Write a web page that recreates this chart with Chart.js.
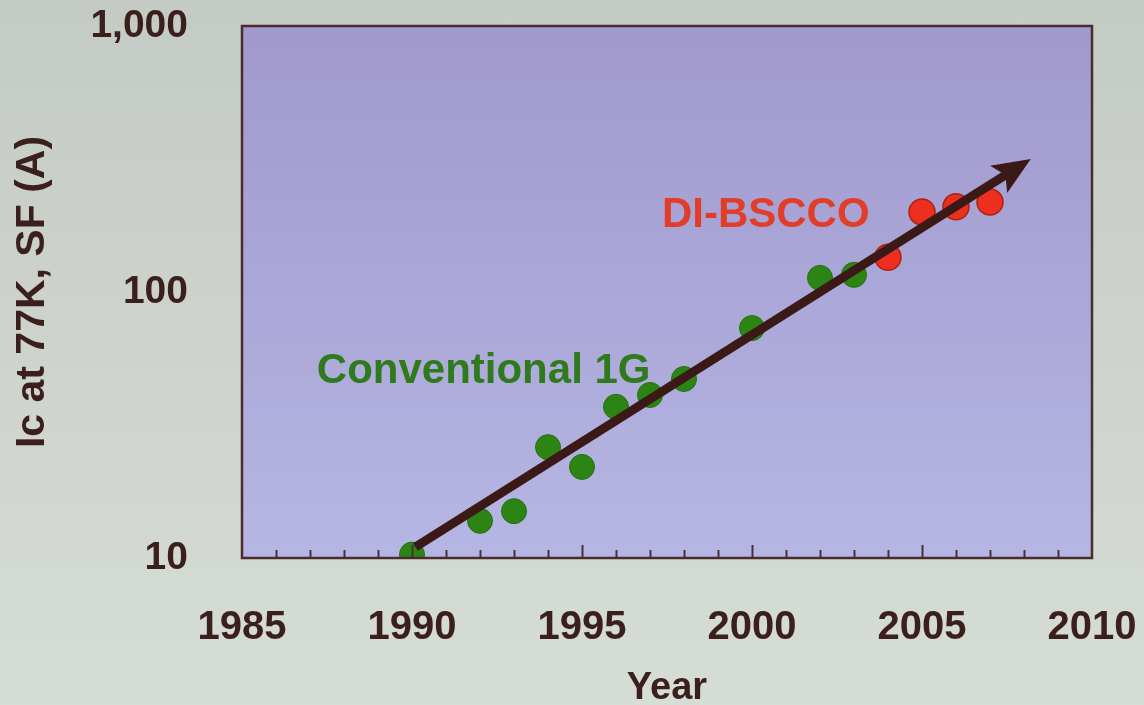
<!DOCTYPE html>
<html>
<head>
<meta charset="utf-8">
<script src="https://cdn.jsdelivr.net/npm/chart.js@4.4.1/dist/chart.umd.min.js"></script>
<style>
  html, body { margin: 0; padding: 0; }
  body { width: 1144px; height: 705px; overflow: hidden;
         background: linear-gradient(180deg, #c4cac4 0%, #cdd3cc 45%, #d6ddd6 100%); }
  #wrap { position: relative; width: 1144px; height: 705px; }
</style>
</head>
<body>
<div id="wrap"><canvas id="c" width="1144" height="705"></canvas></div>
<script>
// Critical current of conventional 1G and DI-BSCCO wire by year
const conventionalYears = [1990, 1992, 1993, 1994, 1995, 1996, 1997, 1998, 2000, 2002, 2003];
const conventionalIc    = [10.3, 13.8, 15.0, 26.1, 22.0, 37.0, 41.0, 47.1, 73.2, 113, 116];
const dibsccoYears = [2004, 2005, 2006, 2007];
const dibsccoIc    = [135, 200, 209, 218];

// Trend arrow: start and tip
const trendYears = [1990.1, 2008.2];
const trendIc    = [11.0, 316];

// Axis ticks
const xTickValues = [1985, 1990, 1995, 2000, 2005, 2010];
const yTickValues = [10, 100, 1000];

const inkColor = '#3b1f1c';
const fontFamily = '"Liberation Sans", Arial, sans-serif';

const toPoints = (xs, ys) => xs.map((x, i) => ({ x: x, y: ys[i] }));

// Lavender plot panel with a dark frame
const panelPlugin = {
  id: 'panel',
  beforeDatasetsDraw(chart) {
    const { ctx, chartArea: a } = chart;
    ctx.save();
    const g = ctx.createLinearGradient(0, a.top, 0, a.bottom);
    g.addColorStop(0, '#a199cc');
    g.addColorStop(0.5, '#aba7d8');
    g.addColorStop(1, '#b6b6e4');
    ctx.fillStyle = g;
    ctx.fillRect(a.left, a.top, a.right - a.left, a.bottom - a.top);
    ctx.restore();
  },
  afterDatasetsDraw(chart) {
    const { ctx, chartArea: a, scales } = chart;
    ctx.save();
    // inward year ticks along the bottom edge
    ctx.strokeStyle = '#4a3030';
    ctx.lineWidth = 2;
    for (let yr = 1986; yr < 2010; yr++) {
      const px = Math.round(scales.x.getPixelForValue(yr)) + 0.5;
      const len = yr % 5 === 0 ? 13 : 8;
      ctx.beginPath();
      ctx.moveTo(px, a.bottom);
      ctx.lineTo(px, a.bottom - len);
      ctx.stroke();
    }
    // frame
    ctx.strokeStyle = '#4a2c2c';
    ctx.lineWidth = 2.5;
    ctx.strokeRect(a.left, a.top, a.right - a.left, a.bottom - a.top);
    ctx.restore();
  }
};

// Trend arrow drawn over the points
const arrowPlugin = {
  id: 'trendArrow',
  afterDatasetsDraw(chart) {
    const { ctx, scales } = chart;
    const x0 = scales.x.getPixelForValue(trendYears[0]);
    const y0 = scales.y.getPixelForValue(trendIc[0]);
    const x1 = scales.x.getPixelForValue(trendYears[1]);
    const y1 = scales.y.getPixelForValue(trendIc[1]);
    const ang = Math.atan2(y1 - y0, x1 - x0);
    const headLen = 38, headHalf = 16, notch = 8;
    const ux = Math.cos(ang), uy = Math.sin(ang);
    const nx = -uy, ny = ux;
    ctx.save();
    ctx.strokeStyle = '#3a1917';
    ctx.fillStyle = '#3a1917';
    ctx.lineWidth = 9;
    ctx.lineCap = 'butt';
    ctx.beginPath();
    ctx.moveTo(x0, y0);
    ctx.lineTo(x1 - ux * (headLen - notch - 2), y1 - uy * (headLen - notch - 2));
    ctx.stroke();
    const bx = x1 - ux * headLen, by = y1 - uy * headLen;
    ctx.beginPath();
    ctx.moveTo(x1, y1);
    ctx.lineTo(bx + nx * headHalf, by + ny * headHalf);
    ctx.lineTo(bx + ux * notch, by + uy * notch);
    ctx.lineTo(bx - nx * headHalf, by - ny * headHalf);
    ctx.closePath();
    ctx.fill();
    ctx.restore();
  }
};

// Series labels placed in data space
const labelPlugin = {
  id: 'seriesLabels',
  afterDatasetsDraw(chart) {
    const { ctx, scales } = chart;
    ctx.save();
    ctx.font = 'bold 42px ' + fontFamily;
    ctx.textBaseline = 'alphabetic';
    ctx.textAlign = 'left';
    ctx.fillStyle = '#2e7a1c';
    ctx.fillText('Conventional 1G', scales.x.getPixelForValue(1987.2), scales.y.getPixelForValue(45.5));
    ctx.fillStyle = '#e23d28';
    ctx.fillText('DI-BSCCO', scales.x.getPixelForValue(1997.35), scales.y.getPixelForValue(175));
    ctx.restore();
  }
};

new Chart(document.getElementById('c'), {
  type: 'scatter',
  data: {
    datasets: [
      {
        label: 'Conventional 1G',
        data: toPoints(conventionalYears, conventionalIc),
        backgroundColor: '#2c8414',
        borderColor: '#24700f',
        borderWidth: 1,
        pointRadius: 12.5,
        pointHoverRadius: 12.5
      },
      {
        label: 'DI-BSCCO',
        data: toPoints(dibsccoYears, dibsccoIc),
        backgroundColor: '#ee2e1e',
        borderColor: '#a82414',
        borderWidth: 1.5,
        pointRadius: 13,
        pointHoverRadius: 13
      }
    ]
  },
  options: {
    responsive: false,
    animation: false,
    events: [],
    layout: { padding: { top: 26, right: 52, bottom: 0, left: 0 } },
    plugins: {
      legend: { display: false },
      tooltip: { enabled: false }
    },
    scales: {
      x: {
        type: 'linear',
        min: 1985,
        max: 2010,
        afterBuildTicks: s => { s.ticks = xTickValues.map(v => ({ value: v })); },
        afterFit: s => { s.height = 147; s.paddingLeft = 0; s.paddingRight = 0; },
        grid: { display: false, drawTicks: false },
        border: { display: false },
        ticks: {
          padding: 46,
          color: inkColor,
          font: { family: fontFamily, size: 40, weight: 'bold' },
          callback: v => String(v),
          maxRotation: 0
        },
        title: {
          display: true,
          text: 'Year',
          color: inkColor,
          font: { family: fontFamily, size: 38, weight: 'bold', lineHeight: 0.85 },
          padding: { top: 0, bottom: 0 }
        }
      },
      y: {
        type: 'logarithmic',
        min: 10,
        max: 1000,
        afterBuildTicks: s => { s.ticks = yTickValues.map(v => ({ value: v })); },
        afterFit: s => { s.width = 242; s.paddingTop = 0; s.paddingBottom = 0; },
        grid: { display: false, drawTicks: false },
        border: { display: false },
        ticks: {
          padding: 54,
          color: inkColor,
          font: { family: fontFamily, size: 39, weight: 'bold' },
          callback: v => Number(v).toLocaleString('en-US')
        },
        title: {
          display: true,
          text: 'Ic at 77K, SF (A)',
          color: inkColor,
          font: { family: fontFamily, size: 41, weight: 'bold', lineHeight: 1.2 },
          padding: { top: 8, bottom: 0 }
        }
      }
    }
  },
  plugins: [panelPlugin, arrowPlugin, labelPlugin]
});
</script>
</body>
</html>
